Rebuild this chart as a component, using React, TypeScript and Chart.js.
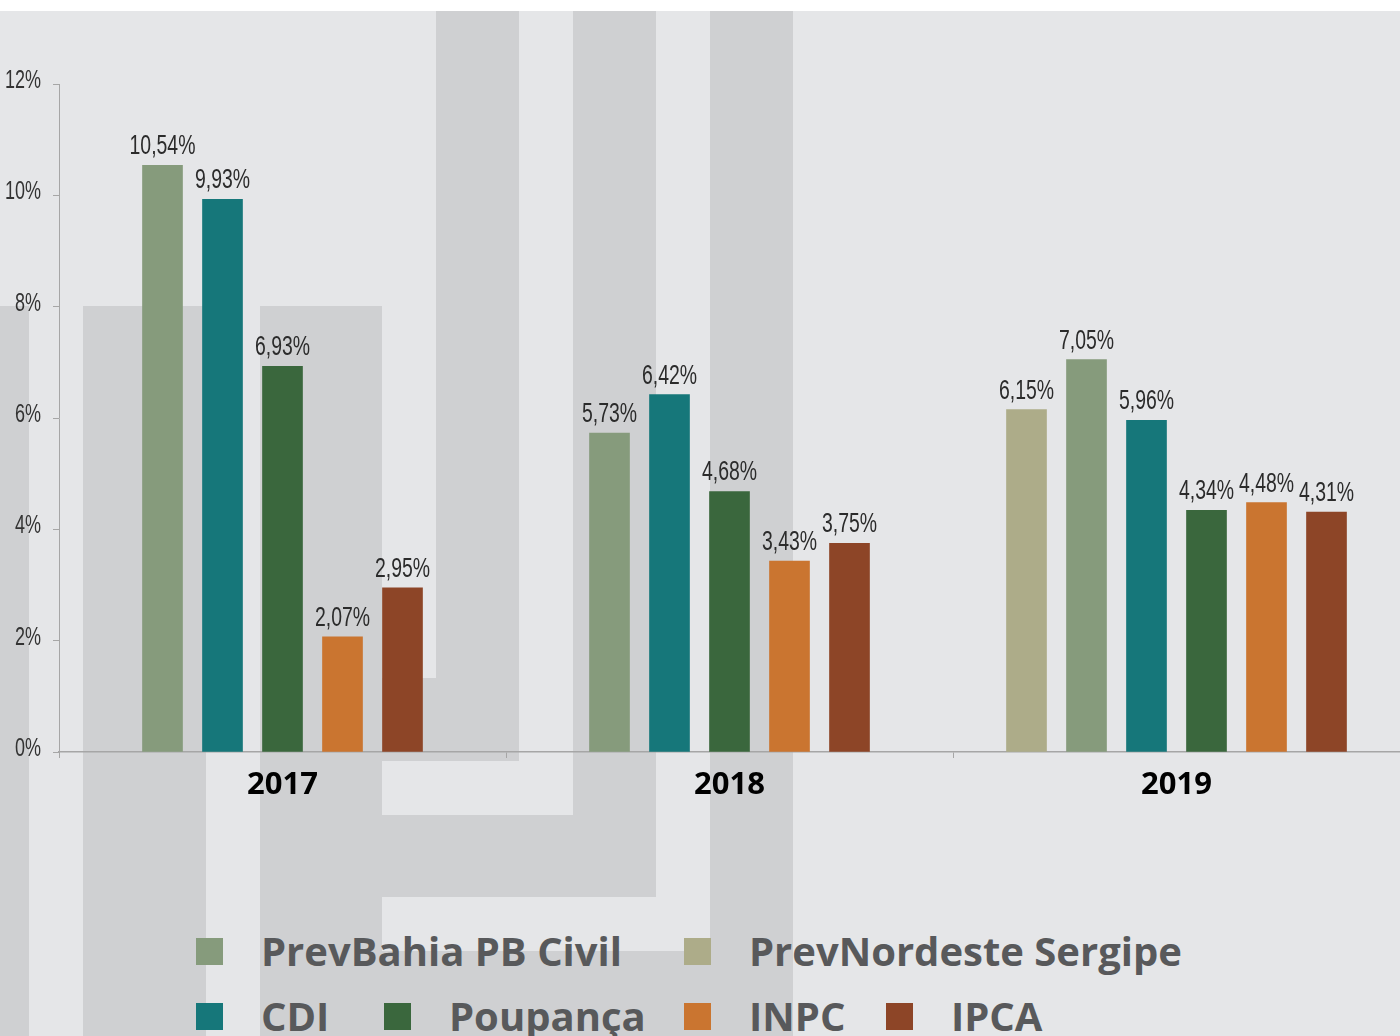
import React, { useEffect, useRef } from 'react';
import { Chart, registerables } from 'chart.js';

Chart.register(...registerables);

// ---- data ----
const categories = ['2017', '2018', '2019'];
const prevNordeste = [null, null, 6.15];
const prevBahia = [10.54, 5.73, 7.05];
const cdi = [9.93, 6.42, 5.96];
const poupanca = [6.93, 4.68, 4.34];
const inpc = [2.07, 3.43, 4.48];
const ipca = [2.95, 3.75, 4.31];

const seriesNames = ['PrevNordeste Sergipe', 'PrevBahia PB Civil', 'CDI', 'Poupança', 'INPC', 'IPCA'];
const seriesValues = [prevNordeste, prevBahia, cdi, poupanca, inpc, ipca];
const seriesColors = ['#adac89', '#869b7c', '#16777a', '#3a673d', '#ca7530', '#8d4527'];

const yMin = 0;
const yMax = 12;
const yStep = 2;

// legend arrangement (rows of series names)
const legendRows = [
  ['PrevBahia PB Civil', 'PrevNordeste Sergipe'],
  ['CDI', 'Poupança', 'INPC', 'IPCA'],
];

// ---- layout / decoration ----
const PAGE_W = 1400;
const PAGE_H = 1036;
const BG_TOP = 11;
const BG_LIGHT = '#e5e6e8';
const BG_DARK = '#cfd0d2';
// decorative watermark blocks: [x, y, w, h] in page pixels
const watermark: number[][] = [
  [0, 306, 29, 730],
  [83, 306, 123, 730],
  [260, 306, 122, 730],
  [436, 11, 83, 750],
  [382, 678, 137, 83],
  [573, 11, 83, 886],
  [382, 815, 274, 82],
  [710, 11, 83, 1025],
  [382, 951, 411, 85],
];
const legendColumnX = [
  [196, 684],
  [196, 384, 684, 886],
];
const legendRowY = [938, 1003];

const labelFont = '"Liberation Sans", Arial, sans-serif';
const CONDENSE = 0.72;

const fmt = (v: number) => v.toFixed(2).replace('.', ',') + '%';

function drawCondensed(ctx: CanvasRenderingContext2D, text: string, x: number, y: number) {
  ctx.save();
  ctx.translate(x, y);
  ctx.scale(CONDENSE, 1);
  ctx.fillText(text, 0, 0);
  ctx.restore();
}

const valueLabels = {
  id: 'valueLabels',
  afterDatasetsDraw(chart: any) {
    const ctx = chart.ctx;
    ctx.save();
    ctx.font = `27px ${labelFont}`;
    ctx.fillStyle = '#2b2b2b';
    ctx.textAlign = 'center';
    ctx.textBaseline = 'alphabetic';
    chart.data.datasets.forEach((ds: any, i: number) => {
      const meta = chart.getDatasetMeta(i);
      meta.data.forEach((el: any, j: number) => {
        const v = ds.data[j];
        if (v === null || v === undefined) return;
        drawCondensed(ctx, fmt(v), el.x, el.y - 11);
      });
    });
    ctx.restore();
  },
};

const yTickLabels = {
  id: 'yTickLabels',
  afterDraw(chart: any) {
    const ctx = chart.ctx;
    const ys = chart.scales.y;
    ctx.save();
    ctx.font = `25px ${labelFont}`;
    ctx.fillStyle = '#333333';
    ctx.textAlign = 'right';
    ctx.textBaseline = 'middle';
    ys.ticks.forEach((t: any) => {
      const py = ys.getPixelForValue(t.value);
      drawCondensed(ctx, t.value + '%', ys.right - 18, py - 3);
    });
    ctx.restore();
  },
};

export default function App() {
  const canvasRef = useRef<HTMLCanvasElement | null>(null);

  useEffect(() => {
    document.body.style.margin = '0';
    document.body.style.overflow = 'hidden';
    const canvas = canvasRef.current;
    if (!canvas) return;
    const chart = new Chart(canvas, {
      type: 'bar',
      data: {
        labels: categories,
        datasets: seriesNames.map((name, i) => ({
          label: name,
          data: seriesValues[i],
          backgroundColor: seriesColors[i],
          borderWidth: 0,
          skipNull: true,
          barThickness: 60,
          maxBarThickness: 40,
        })),
      },
      options: {
        responsive: false,
        animation: false,
        devicePixelRatio: 1,
        layout: { padding: { top: 73, right: -3, left: 0, bottom: 0 } },
        plugins: {
          legend: { display: false },
          tooltip: { enabled: false },
          title: { display: false },
        },
        scales: {
          x: {
            offset: true,
            grid: {
              display: true,
              offset: true,
              drawOnChartArea: false,
              drawTicks: true,
              tickLength: 6,
              color: '#a6a6a6',
            },
            border: { display: true, color: '#a6a6a6', width: 1.5 },
            ticks: {
              color: '#000000',
              padding: 9,
              maxRotation: 0,
              font: { family: '"Open Sans", sans-serif', weight: 'bold', size: 31 },
            },
            afterFit: (s: any) => {
              s.height = 60;
            },
          },
          y: {
            min: yMin,
            max: yMax,
            grid: {
              display: true,
              drawOnChartArea: false,
              drawTicks: true,
              tickLength: 6,
              color: '#a6a6a6',
            },
            border: { display: true, color: '#a6a6a6', width: 1 },
            ticks: {
              display: false,
              stepSize: yStep,
              callback: (v: any) => v + '%',
            },
            afterFit: (s: any) => {
              s.width = 59;
            },
          },
        },
      },
      plugins: [valueLabels, yTickLabels],
    });
    return () => chart.destroy();
  }, []);

  return (
    <div
      style={{
        position: 'relative',
        width: PAGE_W,
        height: PAGE_H,
        overflow: 'hidden',
        background: '#ffffff',
      }}
    >
      <div
        style={{
          position: 'absolute',
          left: 0,
          top: BG_TOP,
          width: PAGE_W,
          height: PAGE_H - BG_TOP,
          background: BG_LIGHT,
        }}
      />
      {watermark.map(([x, y, w, h], i) => (
        <div
          key={'wm' + i}
          style={{ position: 'absolute', left: x, top: y, width: w, height: h, background: BG_DARK }}
        />
      ))}
      <canvas
        ref={canvasRef}
        width={1400}
        height={801}
        style={{ position: 'absolute', left: 0, top: BG_TOP, width: 1400, height: 801 }}
      />
      {legendRows.map((row, r) =>
        row.map((name, c) => {
          const idx = seriesNames.indexOf(name);
          return (
            <div
              key={name}
              style={{
                position: 'absolute',
                left: legendColumnX[r][c],
                top: legendRowY[r],
                height: 27,
                display: 'flex',
                alignItems: 'center',
                whiteSpace: 'nowrap',
              }}
            >
              <div style={{ width: 27, height: 27, background: seriesColors[idx], marginRight: 38, flexShrink: 0 }} />
              <span
                style={{
                  fontFamily: '"Open Sans", sans-serif',
                  fontWeight: 700,
                  fontSize: 40,
                  lineHeight: '27px',
                  color: '#58595b',
                  position: 'relative',
                  top: -1,
                }}
              >
                {name}
              </span>
            </div>
          );
        })
      )}
    </div>
  );
}
